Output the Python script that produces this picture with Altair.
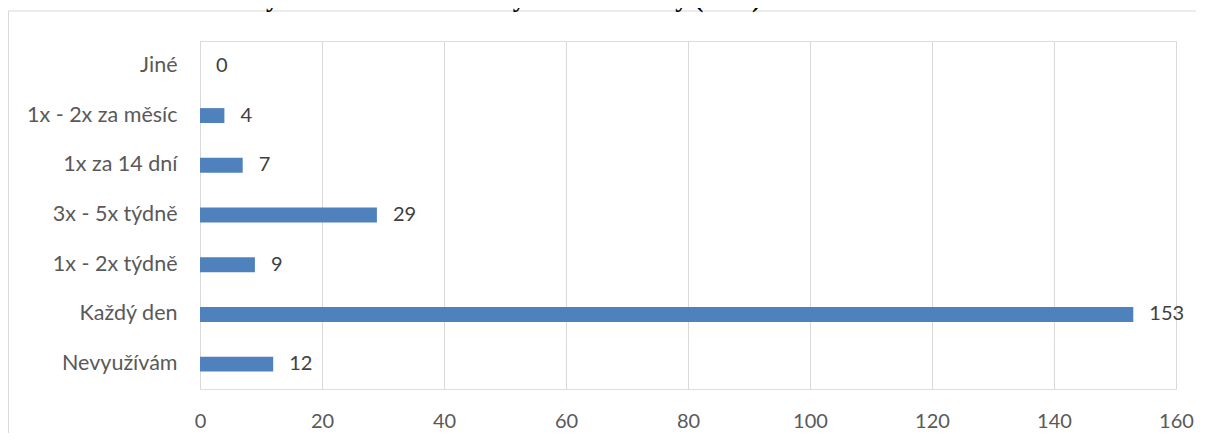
import altair as alt
import pandas as pd

categories = ["Jiné", "1x - 2x za měsíc", "1x za 14 dní", "3x - 5x týdně",
              "1x - 2x týdně", "Každý den", "Nevyužívám"]
values = [0, 4, 7, 29, 9, 153, 12]
x_ticks = [0, 20, 40, 60, 80, 100, 120, 140, 160]
title_text = "Graf č. 24: Frekvence využívání sociální služby/služeb seniory (v os.)"

df = pd.DataFrame({"kategorie": categories, "pocet": values})
one = pd.DataFrame({"t": [title_text]})

LABEL_FONT = "Lato"

y_enc = alt.Y("kategorie:N", sort=categories,
              scale=alt.Scale(paddingInner=0.7, paddingOuter=0.35),
              axis=alt.Axis(title=None, domain=False, ticks=False, labelPadding=23,
                            labelFont=LABEL_FONT, labelFontSize=21.5, labelColor="#595959",
                            grid=False, labelLimit=400))
x_enc = alt.X("pocet:Q", scale=alt.Scale(domain=[0, 160], nice=False),
              axis=alt.Axis(title=None, domain=False, ticks=False, values=x_ticks,
                            grid=True, gridColor="#d9d9d9", gridWidth=1,
                            labelFont=LABEL_FONT, labelFontSize=20, labelColor="#595959",
                            labelBaseline="middle", labelPadding=32, labelFlush=False))

# chart frame: top and left edges (right/bottom lie outside the picture)
frame_top = alt.Chart(one).mark_rule(color="#d9d9d9", strokeWidth=1).encode(
    x=alt.value(-192), x2=alt.value(1100), y=alt.value(-30))
frame_left = alt.Chart(one).mark_rule(color="#d9d9d9", strokeWidth=1).encode(
    x=alt.value(-191.5), y=alt.value(-30), y2=alt.value(600))

base = alt.Chart(df).encode(x=x_enc, y=y_enc)
bars = base.mark_bar(color="#4f81bd")
labels = base.mark_text(align="left", baseline="middle", dx=16,
                        font=LABEL_FONT, fontSize=20, color="#404040").encode(text="pocet:Q")

title = alt.Chart(one).mark_text(align="left", baseline="alphabetic",
                                 font="Liberation Serif", fontWeight="bold", fontSize=25.8,
                                 color="#000000").encode(
    x=alt.value(-192), y=alt.value(-34), text="t:N")

chart = alt.layer(frame_top, frame_left, bars, labels, title).properties(
    width=976, height=348,
    padding={"left": 192, "top": 33, "right": 20, "bottom": 44},
    autosize=alt.AutoSizeParams(type="none"),
).configure_view(stroke="transparent").configure(background="white")

chart.save("out.html", embed_options={"renderer": "svg", "actions": False})
